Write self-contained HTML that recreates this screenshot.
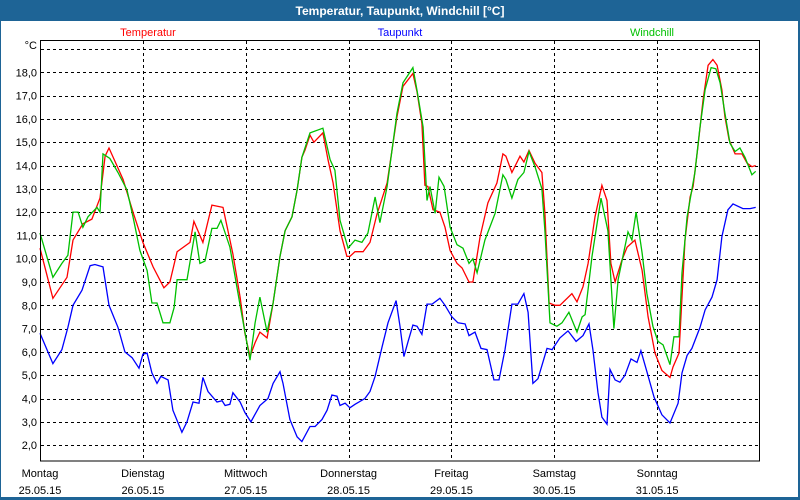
<!DOCTYPE html>
<html><head><meta charset="utf-8"><style>
html,body{margin:0;padding:0;background:#1e6496;}
svg{display:block;font-family:"Liberation Sans","DejaVu Sans",sans-serif;}
</style></head><body>
<svg id="chart" width="800" height="500" viewBox="0 0 800 500" xmlns="http://www.w3.org/2000/svg">
<rect x="0" y="0" width="800" height="500" fill="#1e6496"/>
<rect x="1" y="21" width="797" height="476" fill="#ffffff"/>
<text x="400" y="15" text-anchor="middle" fill="#ffffff" font-size="12" font-weight="bold">Temperatur, Taupunkt, Windchill [°C]</text>
<text x="148" y="36" text-anchor="middle" fill="#ff0000" font-size="11">Temperatur</text>
<text x="400" y="36" text-anchor="middle" fill="#0000ff" font-size="11">Taupunkt</text>
<text x="652" y="36" text-anchor="middle" fill="#00c000" font-size="11">Windchill</text>
<text x="37" y="49" text-anchor="end" fill="#000" font-size="11">°C</text>
<g id="grid"></g>
<g id="yticks"></g>
<g id="xticks"></g>
<g id="series"></g>
<rect x="40.5" y="40.5" width="719" height="420.5" fill="none" stroke="#000" stroke-width="1"/>
</svg>
<script>
const dayNames = ["Montag","Dienstag","Mittwoch","Donnerstag","Freitag","Samstag","Sonntag"];
const dayDates = ["25.05.15","26.05.15","27.05.15","28.05.15","29.05.15","30.05.15","31.05.15"];
const yTicks = [2,3,4,5,6,7,8,9,10,11,12,13,14,15,16,17,18];

const tempHours = [0,3,6.3,7.7,10,12.1,14,15.2,16.1,19.4,21.7,24,26.4,28.9,30.3,32,35,35.9,38,40.1,42.7,45,46.7,47.8,49,50.2,51.3,53,54.4,56,57.2,58.8,60,61.1,61.8,63,63.9,66,67.2,68.4,70,71.6,72.3,73.5,75.4,77,78.6,81,83.3,84.7,87,88,89.1,89.8,90.5,91.7,93.3,94.5,95.7,97.3,98.5,100.1,101,102.7,104.5,106.6,108,108.7,110.1,112,112.9,114.1,115.5,117.1,117.8,118.8,120.2,121.3,124.1,125.3,126.7,127.9,129.5,131.1,132.3,133.2,134.2,135.8,137,138.8,140.5,141.9,143.5,145.1,147,147.7,149.1,149.8,150.5,151.7,152.4,153.5,154.7,155.9,157,158,159.1,159.8,160.8,162.2,163.8,165,166.1,167];
const tempValues = [10.45,8.3,9.2,10.8,11.5,11.7,12.6,14.4,14.75,13.4,12.0,10.7,9.65,8.75,9.0,10.3,10.7,11.6,10.7,12.3,12.2,10.2,8.35,6.8,5.8,6.4,6.85,6.6,8.1,10.1,11.2,11.8,12.95,14.35,14.65,15.3,15.0,15.4,14.25,13.25,11.2,10.1,10.1,10.3,10.3,10.7,11.9,13.25,16.1,17.4,17.95,17.15,15.8,13.15,13.1,12.1,12.0,11.35,10.35,9.8,9.6,9.0,9.0,10.95,12.4,13.25,14.5,14.4,13.7,14.4,14.15,14.65,14.1,13.7,11.95,8.1,8.0,8.0,8.5,8.15,8.8,9.8,11.8,13.15,12.5,9.8,9.0,9.95,10.5,10.8,9.5,7.5,5.95,5.2,4.9,5.35,5.95,8.35,10.8,12.65,13.1,14.8,16.8,18.3,18.55,18.3,17.25,16.1,15.1,14.5,14.5,14.1,13.95,14.0];

const dewHours = [0,3,5.1,6.5,7.7,9.8,11.7,12.8,14.7,16.1,18.2,19.8,21.5,23.1,24,25,26.1,27.3,28.2,29.9,31,33.1,34.3,35.7,37.1,38,39.2,41.3,42.5,43.2,44.3,45,46.7,47.8,49.2,51.3,53.2,54.4,56,56.7,58.3,60,61.1,63,64.2,65.8,67,68.1,69.3,70,71.2,72.3,73.5,75.8,77,78.2,79.8,81.2,83.1,84,84.9,85.9,87,88,89.1,90.3,91.5,93.3,94.5,96.1,97.5,99.2,100.1,101.5,102.9,104.3,105.9,107.1,108.5,110.1,111.5,112.9,113.9,115,116.2,118.3,119.5,121.3,123.2,125.1,126.7,128.1,129,130.2,131.1,132.3,133,134.2,135.3,136.5,137.9,139.3,140.2,141.6,143.3,145.1,147,148.9,149.8,151,152.1,154,155.2,156.8,158,159.1,160.5,161.7,164,165.7,167];
const dewValues = [6.8,5.5,6.1,7.05,8.0,8.65,9.7,9.75,9.65,8.0,7.05,6.0,5.75,5.3,5.9,5.95,5.1,4.65,4.95,4.8,3.5,2.55,3.0,3.85,3.8,4.9,4.3,3.85,3.9,3.7,3.75,4.25,3.85,3.4,3.0,3.7,4.0,4.65,5.15,4.65,3.1,2.35,2.15,2.8,2.8,3.1,3.5,4.15,4.1,3.7,3.8,3.6,3.75,4.0,4.3,4.95,6.2,7.25,8.2,7.1,5.8,6.45,7.15,7.1,6.75,8.05,8.05,8.3,8.0,7.5,7.25,7.2,6.7,6.85,6.15,6.1,4.8,4.8,6.1,8.05,8.05,8.5,7.7,4.65,4.85,6.15,6.1,6.6,6.9,6.45,6.7,7.2,6.1,4.25,3.2,2.9,5.25,4.8,4.7,5.0,5.7,5.55,6.05,5.15,4.05,3.3,2.95,3.8,5.1,5.85,6.15,7.05,7.8,8.35,9.1,10.95,12.1,12.35,12.15,12.15,12.2];

const chillHours = [0,3,5.1,6.5,7.7,8.9,10,11.2,13.3,14,14.7,16.3,18.2,20.3,21.7,23.3,25,26.1,27.3,28.7,30.3,31.3,32,34.3,36.2,37.3,38.5,40.1,41.3,42.2,44.3,46.7,49,50.2,51.3,53,54.4,56,57.2,58.8,60,61.1,63,66,67.7,68.8,70,71.9,73.5,75.1,76.5,78.2,79.3,81,83.3,84.7,87,88,89.4,90.3,91,92.2,93.1,94.3,95.7,97.3,98.7,100.1,101,102,103.8,106.2,108,108.7,110.1,111.5,112.9,114.1,115.5,117.1,117.8,119,120.6,121.8,123.4,125.3,126.5,127.2,128.8,130.9,132.5,133.9,134.9,137.2,138.1,139.1,140.5,141.6,143,144.2,145.4,147,147.9,149.1,149.8,151,152.8,154,155.2,156.6,157.7,158.7,159.8,161,162.2,163.3,164.5,166.1,167];
const chillValues = [11.1,9.2,9.8,10.15,12.0,12.0,11.35,11.8,12.2,12.0,14.5,14.3,13.7,12.95,11.8,10.35,9.5,8.1,8.1,7.25,7.25,7.9,9.1,9.1,11.15,9.8,9.9,11.3,11.3,11.65,10.5,8.0,5.65,7.25,8.35,6.85,8.1,10.1,11.2,11.8,12.95,14.35,15.4,15.6,14.25,13.8,11.65,10.45,10.8,10.7,11.1,12.65,11.55,13.1,16.25,17.55,18.2,17.2,15.65,12.5,13.1,11.95,13.5,13.1,11.35,10.6,10.45,9.8,10.0,9.4,10.8,11.95,13.6,13.4,12.6,13.4,13.7,14.6,13.95,13.0,11.2,7.25,7.1,7.25,7.7,6.85,7.5,7.6,10.1,12.6,11.2,7.0,9.1,11.15,10.8,12.0,10.25,8.5,7.1,6.45,6.3,5.45,6.65,6.65,9.4,11.8,13.7,15.65,17.25,18.2,18.15,17.55,16.25,14.95,14.6,14.75,14.35,13.6,13.75];

const NS = "http://www.w3.org/2000/svg";
const X0 = 40, X1 = 760, TOTAL_H = 168;
const Y19 = 49, PX_PER_DEG = 23.3;
function xScale(h){ return X0 + h * (X1 - X0) / TOTAL_H; }
function yScale(v){ return Y19 + (19 - v) * PX_PER_DEG; }
function mk(tag, parent){ const e = document.createElementNS(NS, tag); parent.appendChild(e); return e; }

const grid = document.getElementById('grid');
const gridLevels = yTicks.concat([19]);
gridLevels.forEach(v => {
  const l = mk('line', grid);
  
  
  const y = Math.round(yScale(v)) + 0.5;
  l.setAttribute('x1', 41); l.setAttribute('x2', 759);
  l.setAttribute('y1', y); l.setAttribute('y2', y);
  l.setAttribute('stroke', '#000'); l.setAttribute('stroke-dasharray', '3,3');
});
for (let d = 1; d < dayNames.length; d++) {
  const l = mk('line', grid);
  
  
  const x = Math.round(xScale(d * 24)) + 0.5;
  l.setAttribute('x1', x); l.setAttribute('x2', x);
  l.setAttribute('y1', 41); l.setAttribute('y2', 461);
  l.setAttribute('stroke', '#000'); l.setAttribute('stroke-dasharray', '3,3');
}
const yt = document.getElementById('yticks');
yTicks.forEach(v => {
  const t = mk('text', yt);
  
  
  t.setAttribute('x', 37); t.setAttribute('y', yScale(v) + 4);
  t.setAttribute('text-anchor', 'end'); t.setAttribute('font-size', '11');
  t.textContent = v.toFixed(1).replace('.', ',');
});
const xt = document.getElementById('xticks');
dayNames.forEach((n, i) => {
  const x = xScale(i * 24);
  const a = mk('text', xt);
  
  
  a.setAttribute('x', x); a.setAttribute('y', 477);
  a.setAttribute('text-anchor', 'middle'); a.setAttribute('font-size', '11');
  a.textContent = n;
  const b = mk('text', xt);
  
  
  b.setAttribute('x', x); b.setAttribute('y', 494);
  b.setAttribute('text-anchor', 'middle'); b.setAttribute('font-size', '11');
  b.textContent = dayDates[i];
});
const sg = document.getElementById('series');
function drawLine(hours, vals, color, name){
  const p = mk('polyline', sg);
  
  
  p.setAttribute('points', hours.map((h, i) => xScale(h).toFixed(1) + ',' + yScale(vals[i]).toFixed(1)).join(' '));
  p.setAttribute('fill', 'none'); p.setAttribute('stroke', color); p.setAttribute('stroke-width', '1.3');
}
drawLine(dewHours, dewValues, '#0000ff', 'taupunkt-line');
drawLine(tempHours, tempValues, '#ff0000', 'temperatur-line');
drawLine(chillHours, chillValues, '#00c000', 'windchill-line');
</script>
</body></html>
